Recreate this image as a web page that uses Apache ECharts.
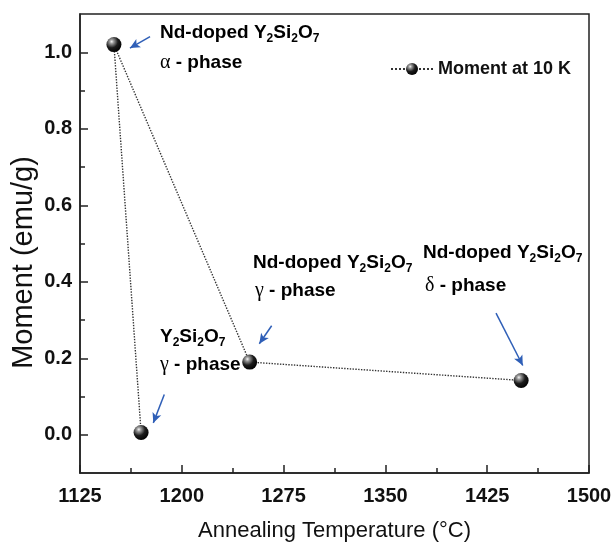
<!DOCTYPE html>
<html>
<head>
<meta charset="utf-8">
<script src="https://cdn.jsdelivr.net/npm/echarts@6/dist/echarts.min.js"></script>
<style>
  html, body { margin: 0; padding: 0; background: #fff; }
  #chart { width: 612px; height: 546px; }
</style>
</head>
<body>
<div id="chart"></div>
<script>
// Magnetic moment at 10 K versus annealing temperature
const temps = [1170, 1150, 1250, 1450];
const moments = [0.006, 1.02, 0.19, 0.142];
const seriesName = 'Moment at 10 K';
const yLabelValues = [0, 0.2, 0.4, 0.6, 0.8, 1.0];
const yMinorValues = [0.1, 0.3, 0.5, 0.7, 0.9];
// pointer arrows, tail -> head, in axis units
const arrowTails = [[1176.6, 1.041], [1187.1, 0.105], [1266.2, 0.285], [1431.5, 0.318]];
const arrowHeads = [[1161.8, 1.011], [1179.0, 0.031], [1257.1, 0.238], [1451.2, 0.181]];

const SANS = "'Liberation Sans', Arial, sans-serif";
const GREEK = "'Liberation Serif', 'DejaVu Serif', serif";
const INK = '#111';
const ARROW = '#2f5fb7';

const chart = echarts.init(document.getElementById('chart'), null, { renderer: 'canvas' });

const ballFill = new echarts.graphic.RadialGradient(0.35, 0.3, 0.75, [
  { offset: 0, color: '#f4f4f4' },
  { offset: 0.18, color: '#9a9a9a' },
  { offset: 0.55, color: '#1c1c1c' },
  { offset: 1, color: '#000' }
]);

const rich = {
  m: { fontFamily: SANS, fontWeight: 'bold', fontSize: 19, lineHeight: 24, color: INK },
  s: { fontFamily: SANS, fontWeight: 'bold', fontSize: 12, lineHeight: 13, color: INK, verticalAlign: 'bottom' },
  g: { fontFamily: GREEK, fontWeight: 'normal', fontSize: 20, lineHeight: 24, color: INK }
};
const formula = '{m|Y}{s|2}{m|Si}{s|2}{m|O}{s|7}';
function note(x, y, text) {
  return { type: 'text', x: x, y: y, silent: true,
    style: { text: text, rich: rich, verticalAlign: 'middle', align: 'left' } };
}

const option = {
  animation: false,
  grid: { left: 80, top: 14, right: 23, bottom: 73, show: true, borderColor: '#222', borderWidth: 1.5,
    outerBoundsMode: 'none', containLabel: false },
  legend: {
    data: [seriesName], left: 385, top: 55, itemWidth: 42, itemHeight: 15, itemGap: 4,
    textStyle: { fontFamily: SANS, fontWeight: 'bold', fontSize: 18, color: INK }
  },
  xAxis: {
    type: 'value', min: 1125, max: 1500, interval: 75,
    name: 'Annealing Temperature (°C)', nameLocation: 'middle', nameGap: 47,
    nameMoveOverlap: false,
    nameTextStyle: { fontFamily: SANS, fontSize: 22, color: INK },
    axisLine: { show: true, onZero: false, lineStyle: { color: '#222', width: 1.5 } },
    axisTick: { show: true, inside: true, length: 8, lineStyle: { color: '#222', width: 1.5 } },
    minorTick: { show: true, splitNumber: 2, length: 5, lineStyle: { color: '#222', width: 1.5 } },
    axisLabel: { margin: 13, fontFamily: SANS, fontWeight: 'bold', fontSize: 20, color: INK,
      formatter: v => String(v) },
    splitLine: { show: false }
  },
  yAxis: [{
    type: 'value', min: -0.1, max: 1.1, interval: 0.1,
    name: 'Moment (emu/g)', nameLocation: 'middle', nameGap: 42,
    nameMoveOverlap: false,
    nameTextStyle: { fontFamily: SANS, fontSize: 29, color: INK, padding: [0, 38, 0, 0] },
    axisLine: { show: true, onZero: false, lineStyle: { color: '#222', width: 1.5 } },
    axisTick: { show: true, inside: true, length: 8, customValues: yLabelValues, lineStyle: { color: '#222', width: 1.5 } },
    axisLabel: { margin: 8, customValues: yLabelValues, fontFamily: SANS, fontWeight: 'bold', fontSize: 20, color: INK,
      formatter: v => v.toFixed(1) },
    splitLine: { show: false }
  }, {
    type: 'value', min: -0.1, max: 1.1, interval: 0.1, position: 'left',
    axisLine: { show: false, onZero: false },
    axisTick: { show: true, inside: true, length: 5, customValues: yMinorValues, lineStyle: { color: '#222', width: 1.5 } },
    axisLabel: { show: false },
    splitLine: { show: false }
  }],
  series: [{
    name: seriesName,
    type: 'line',
    data: temps.map((t, i) => [t, moments[i]]),
    symbol: 'circle', symbolSize: 15,
    itemStyle: { color: ballFill, borderWidth: 0 },
    lineStyle: { type: 'dotted', color: '#333', width: 1.4 },
    markLine: {
      silent: true, symbol: ['none', 'arrow'], symbolSize: [7, 10], precision: 3,
      label: { show: false },
      lineStyle: { type: 'solid', color: ARROW, width: 1.5 },
      data: arrowTails.map((a, i) => [{ coord: a }, { coord: arrowHeads[i] }])
    },
    z: 3
  }],
  graphic: [
    note(160, 33, '{m|Nd-doped }' + formula),
    note(160, 63, '{g|α}{m| - phase}'),
    note(253, 263, '{m|Nd-doped }' + formula),
    note(255, 291, '{g|γ}{m| - phase}'),
    note(423, 253, '{m|Nd-doped }' + formula),
    note(425, 286, '{g|δ}{m| - phase}'),
    note(160, 337, formula),
    note(160, 365, '{g|γ}{m| - phase}')
  ]
};
chart.setOption(option);
</script>
</body>
</html>
